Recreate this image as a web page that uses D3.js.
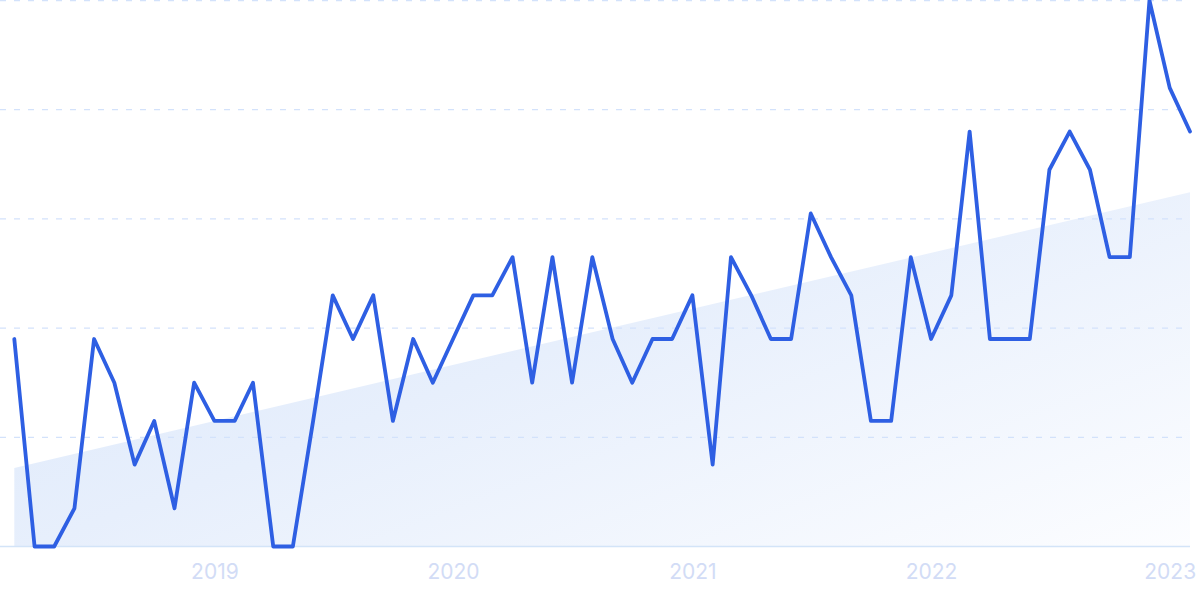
<!DOCTYPE html>
<html>
<head>
<meta charset="utf-8">
<script src="https://cdn.jsdelivr.net/npm/d3@7"></script>
<style>
  html, body { margin: 0; padding: 0; background: #ffffff; }
  svg { display: block; }
</style>
</head>
<body>
<svg id="chart" width="1200" height="599"></svg>
<script>
// ---- data ----
const months = [
  "2018-03","2018-04","2018-05","2018-06","2018-07","2018-08","2018-09","2018-10","2018-11","2018-12",
  "2019-01","2019-02","2019-03","2019-04","2019-05","2019-06","2019-07","2019-08","2019-09","2019-10",
  "2019-11","2019-12","2020-01","2020-02","2020-03","2020-04","2020-05","2020-06","2020-07","2020-08",
  "2020-09","2020-10","2020-11","2020-12","2021-01","2021-02","2021-03","2021-04","2021-05","2021-06",
  "2021-07","2021-08","2021-09","2021-10","2021-11","2021-12","2022-01","2022-02","2022-03","2022-04",
  "2022-05","2022-06","2022-07","2022-08","2022-09","2022-10","2022-11","2022-12","2023-01","2023-02"
];
const values = [
  38, 0, 0, 7, 38, 30, 15, 23, 7, 30,
  23, 23, 30, 0, 0, 23, 46, 38, 46, 23,
  38, 30, 38, 46, 46, 53, 30, 53, 30, 53,
  38, 30, 38, 38, 46, 15, 53, 46, 38, 38,
  61, 53, 46, 23, 23, 53, 38, 46, 76, 38,
  38, 38, 69, 76, 69, 53, 53, 100, 84, 76
];
const trendValues = [14.4, 64.9];          // trend line at first and last month
const gridValues = [20, 40, 60, 80, 100];
const yearTicks = ["2019-01", "2020-01", "2021-01", "2022-01", "2023-01"];
const yearLabels = ["2019", "2020", "2021", "2022", "2023"];

// ---- layout ----
const svg = d3.select("#chart");
const parse = d3.utcParse("%Y-%m");
const dates = months.map(parse);
const data = dates.map((d, i) => ({ date: d, value: values[i] }));

const x = d3.scaleUtc()
  .domain([dates[0], dates[dates.length - 1]])
  .range([14.3, 1190]);
const y = d3.scaleLinear()
  .domain([0, 100])
  .range([546.5, 0.5]);

// gradient
const defs = svg.append("defs");
const grad = defs.append("linearGradient")
  .attr("id", "trendGrad")
  .attr("x1", "0").attr("y1", "0.2").attr("x2", "1").attr("y2", "1");
grad.append("stop").attr("offset", "0").attr("stop-color", "#dde9fb");
grad.append("stop").attr("offset", "0.4").attr("stop-color", "#e7effc");
grad.append("stop").attr("offset", "1").attr("stop-color", "#fcfdff");

// trend area
const trendData = [
  { date: dates[0], value: trendValues[0] },
  { date: dates[dates.length - 1], value: trendValues[1] }
];
svg.append("path")
  .datum(trendData)
  .attr("fill", "url(#trendGrad)")
  .attr("d", d3.area()
    .x(d => x(d.date))
    .y0(y(0))
    .y1(d => y(d.value)));

// grid lines
svg.append("g")
  .selectAll("line")
  .data(gridValues)
  .join("line")
  .attr("x1", 0)
  .attr("x2", 1188)
  .attr("y1", d => y(d))
  .attr("y2", d => y(d))
  .attr("stroke", "#d3e2fb")
  .attr("stroke-width", 1.3)
  .attr("stroke-dasharray", "6,8");

// baseline
svg.append("line")
  .attr("x1", 0).attr("x2", 1190)
  .attr("y1", y(0)).attr("y2", y(0))
  .attr("stroke", "#d3e4f8")
  .attr("stroke-width", 1.6);

// x axis labels
const xAxis = d3.axisBottom(x)
  .tickValues(yearTicks.map(parse))
  .tickFormat((d, i) => yearLabels[i])
  .tickSize(0)
  .tickPadding(0);
const gx = svg.append("g")
  .attr("transform", `translate(0, 579)`)
  .call(xAxis);
gx.select(".domain").remove();
gx.selectAll("text")
  .attr("dy", "0")
  .attr("fill", "#d2dcf6")
  .attr("font-family", "Inter, 'Noto Sans', sans-serif")
  .attr("font-size", 21)
  .attr("font-weight", 400);

// main line
svg.append("path")
  .datum(data)
  .attr("fill", "none")
  .attr("stroke", "#2e5fe3")
  .attr("stroke-width", 3.8)
  .attr("stroke-linejoin", "round")
  .attr("stroke-linecap", "round")
  .attr("d", d3.line()
    .x(d => x(d.date))
    .y(d => y(d.value)));
</script>
</body>
</html>
